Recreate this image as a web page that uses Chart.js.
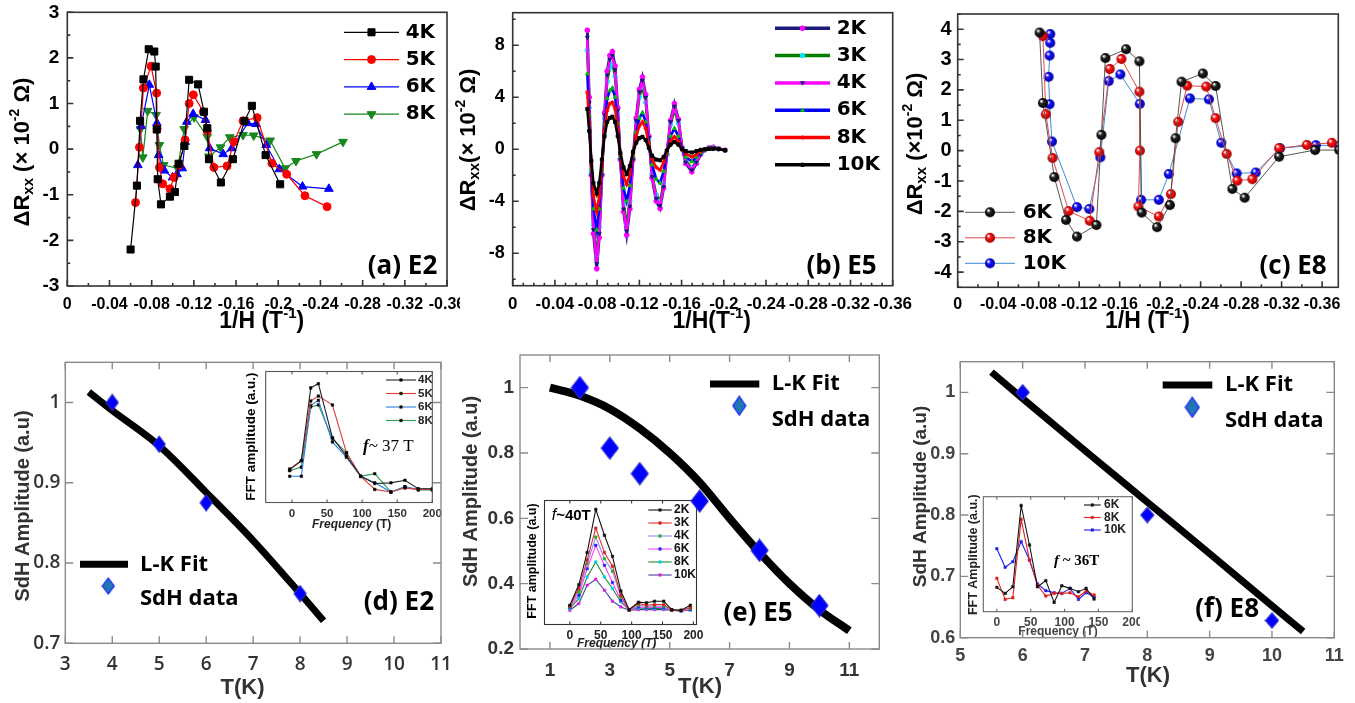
<!DOCTYPE html>
<html>
<head>
<meta charset="utf-8">
<script src="https://cdn.jsdelivr.net/npm/chart.js@4.4.1/dist/chart.umd.min.js"></script>
<style>
  html, body { margin: 0; padding: 0; background: #fff; }
  #page { position: relative; width: 1355px; height: 703px; overflow: hidden; }
  #page canvas { position: absolute; }
</style>
</head>
<body>
<div id="page"></div>
<script>
// ---- shared tick labels ----
const H_TICKS = [0, -0.04, -0.08, -0.12, -0.16, -0.2, -0.24, -0.28, -0.32, -0.36];
const FREQ_TICKS = [0, 50, 100, 150, 200];

// ---- (a) E2 oscillations ----
const E2_4K_H = [-0.060, -0.066, -0.069, -0.0722, -0.0772, -0.0825, -0.0838, -0.0848, -0.0857, -0.0888, -0.0973, -0.102, -0.1055, -0.111, -0.1155, -0.124, -0.1296, -0.1327, -0.1343, -0.1456, -0.157, -0.168, -0.175, -0.188, -0.2018];
const E2_4K_R = [-2.2, -0.80, 0.62, 1.53, 2.19, 2.14, 1.81, 0.43, -0.66, -1.21, -1.04, -0.94, -0.32, 0.07, 1.52, 1.42, 0.82, 0.46, -0.22, -0.73, -0.22, 0.62, 0.95, -0.13, -0.77];
const E2_5K_H = [-0.0647, -0.0684, -0.0722, -0.0794, -0.0847, -0.0852, -0.0873, -0.0904, -0.0973, -0.1013, -0.106, -0.1117, -0.1155, -0.1195, -0.129, -0.1327, -0.139, -0.1515, -0.158, -0.1666, -0.18, -0.194, -0.208, -0.2253, -0.2463];
const E2_5K_R = [-1.17, 0.04, 1.34, 1.82, 1.23, 0.45, -0.40, -0.76, -0.87, -0.62, -0.35, 0.20, 1.0, 1.19, 0.82, 0.4, -0.40, -0.37, 0.16, 0.62, 0.69, -0.31, -0.55, -1.02, -1.26];
const E2_6K_H = [-0.0669, -0.07, -0.0778, -0.085, -0.0866, -0.092, -0.0998, -0.104, -0.109, -0.1117, -0.1133, -0.1193, -0.131, -0.135, -0.1478, -0.156, -0.171, -0.179, -0.1886, -0.201, -0.223, -0.248];
const E2_6K_R = [-0.35, 0.51, 1.41, 0.57, -0.13, -0.47, -0.62, -0.55, -0.42, 0.16, 0.6, 0.77, 0.64, 0.02, -0.11, 0.02, 0.57, 0.55, 0.09, -0.44, -0.82, -0.87];
const E2_8K_H = [-0.0694, -0.0716, -0.0762, -0.0842, -0.0873, -0.0913, -0.1045, -0.1108, -0.1202, -0.1327, -0.1343, -0.1453, -0.154, -0.1666, -0.1767, -0.1924, -0.2065, -0.2168, -0.2363, -0.2614];
const E2_8K_R = [0.44, -0.18, 0.84, 0.75, 0.09, -0.35, -0.42, 0.44, 0.7, 0.27, -0.16, 0.04, 0.26, 0.31, 0.3, 0.19, -0.42, -0.26, -0.11, 0.16];

// ---- (b) E5 oscillations, common 1/H grid ----
const E5_H = [-0.0707, -0.0725, -0.0745, -0.0765, -0.0796, -0.082, -0.0845, -0.087, -0.0895, -0.092, -0.0944, -0.097, -0.0995, -0.102, -0.105, -0.108, -0.111, -0.114, -0.117, -0.120, -0.1229, -0.126, -0.129, -0.132, -0.136, -0.1396, -0.143, -0.146, -0.1495, -0.1532, -0.157, -0.1605, -0.164, -0.1697, -0.174, -0.178, -0.182, -0.186, -0.19, -0.195, -0.2012];
const E5_2K = [9.15, 4.0, -2.0, -6.5, -9.2, -6.8, -2.0, 2.8, 6.0, 7.2, 7.5, 6.4, 3.2, -0.8, -4.8, -6.6, -4.6, -0.8, 2.4, 4.6, 5.55, 4.2, 1.0, -2.2, -4.0, -4.56, -3.0, -0.4, 2.2, 3.5, 2.3, 0.1, -1.1, -1.74, -1.1, -0.4, -0.05, 0.1, 0.15, 0.05, -0.08];
const E5_3K = [7.6, 3.2, -1.8, -5.8, -8.2, -6.0, -1.9, 2.4, 5.2, 6.3, 6.6, 5.6, 2.7, -0.7, -4.2, -5.8, -4.0, -0.7, 2.0, 4.0, 4.8, 3.6, 0.8, -1.9, -3.5, -4.0, -2.6, -0.4, 1.9, 3.0, 2.0, 0.1, -0.9, -1.45, -0.9, -0.35, -0.05, 0.08, 0.1, 0.03, -0.08];
const E5_4K = [8.6, 3.6, -2.0, -6.2, -8.8, -6.5, -2.0, 2.6, 5.7, 6.9, 7.2, 6.1, 3.0, -0.8, -4.6, -6.3, -4.4, -0.8, 2.2, 4.4, 5.3, 4.0, 0.9, -2.1, -3.8, -4.35, -2.9, -0.4, 2.1, 3.3, 2.2, 0.1, -1.0, -1.6, -1.0, -0.4, -0.05, 0.1, 0.12, 0.04, -0.08];
const E5_6K = [5.8, 2.6, -1.5, -4.6, -6.2, -4.6, -1.5, 1.9, 3.9, 4.5, 4.7, 4.0, 2.0, -0.5, -3.0, -4.0, -2.8, -0.5, 1.3, 2.4, 2.8, 2.1, 0.4, -1.2, -2.3, -2.6, -1.7, -0.3, 1.0, 1.6, 1.0, 0.0, -0.6, -0.95, -0.6, -0.25, -0.05, 0.05, 0.08, 0.02, -0.08];
const E5_8K = [4.4, 2.0, -1.2, -3.6, -4.8, -3.6, -1.2, 1.4, 3.0, 3.5, 3.6, 3.1, 1.5, -0.4, -2.1, -2.7, -1.9, -0.3, 1.0, 1.8, 2.1, 1.6, 0.3, -0.8, -1.4, -1.6, -1.0, -0.2, 0.6, 0.95, 0.6, 0.0, -0.35, -0.6, -0.4, -0.15, -0.03, 0.04, 0.05, 0.02, -0.08];
const E5_10K = [3.1, 1.4, -0.9, -2.6, -3.4, -2.6, -0.8, 1.0, 2.1, 2.4, 2.5, 2.1, 1.0, -0.3, -1.4, -1.9, -1.3, -0.2, 0.5, 0.85, 0.95, 0.7, 0.1, -0.5, -0.8, -0.85, -0.6, -0.1, 0.35, 0.55, 0.35, 0.0, -0.15, -0.25, -0.15, -0.05, 0.0, 0.02, 0.03, 0.01, -0.08];

// ---- (c) E8 oscillations ----
const E8_6K_H = [-0.0809, -0.0842, -0.0954, -0.107, -0.1178, -0.137, -0.142, -0.1459, -0.1663, -0.1795, -0.1818, -0.197, -0.2096, -0.2152, -0.2211, -0.2422, -0.2548, -0.2713, -0.2835, -0.3175, -0.3531, -0.3769];
const E8_6K_R = [3.89, 1.57, -0.87, -2.28, -2.83, -2.45, 0.52, 3.05, 3.34, 2.94, -2.04, -2.52, -1.79, 0.41, 2.27, 2.54, 2.13, -1.26, -1.55, -0.2, 0.02, 0.02];
const E8_8K_H = [-0.0842, -0.0871, -0.0937, -0.1096, -0.1304, -0.1399, -0.1502, -0.1617, -0.1795, -0.18, -0.1785, -0.1987, -0.2106, -0.2178, -0.2267, -0.2455, -0.2548, -0.2657, -0.2762, -0.2911, -0.3175, -0.3449, -0.3696];
const E8_8K_R = [3.77, 1.2, -0.24, -1.99, -2.31, -0.05, 2.69, 3.02, 1.94, 0.0, -1.84, -2.17, -1.43, 0.95, 2.14, 2.11, 1.07, -0.11, -0.99, -0.94, 0.08, 0.19, 0.26];
const E8_10K_H = [-0.0914, -0.0914, -0.0908, -0.0898, -0.0908, -0.0931, -0.1178, -0.13, -0.1409, -0.1492, -0.1607, -0.1799, -0.1812, -0.1987, -0.2086, -0.2294, -0.2482, -0.2604, -0.2756, -0.2944, -0.3185, -0.3538, -0.3769];
const E8_10K_R = [3.84, 3.55, 3.13, 2.43, 1.53, 0.3, -1.86, -1.92, -0.22, 2.29, 2.51, 1.54, -1.62, -1.62, -0.77, 1.72, 1.69, 0.26, -0.75, -0.72, 0.08, 0.18, 0.16];

// ---- (d)-(f) SdH amplitude vs T with L-K fits ----
const E2_T = [4, 5, 6, 8];
const E2_AMP = [1.0, 0.948, 0.875, 0.762];
const E2_FIT_T = [3.5, 4, 5, 6, 7, 8, 8.5];
const E2_FIT = [1.013, 0.99, 0.946, 0.888, 0.828, 0.762, 0.728];
const E5_T = [2, 3, 4, 6, 8, 10];
const E5_AMP = [1.0, 0.815, 0.737, 0.653, 0.502, 0.333];
const E5_FIT_T = [1, 2, 3, 4, 5, 6, 7, 8, 9, 10, 11];
const E5_FIT = [1.0, 0.975, 0.935, 0.875, 0.8, 0.71, 0.6, 0.495, 0.4, 0.32, 0.256];
const E8_T = [6, 8, 10];
const E8_AMP = [1.0, 0.8, 0.628];
const E8_FIT_T = [5.5, 6, 7, 8, 9, 10, 10.5];
const E8_FIT = [1.033, 0.99, 0.905, 0.821, 0.737, 0.652, 0.61];

// ---- FFT insets (arbitrary units) ----
const FFT_E2_F = [-3.3, 13.3, 26.7, 37.6, 57.6, 77.6, 98, 118, 141, 161, 180, 200];
const FFT_E2_4K = [0.255, 0.32, 0.875, 0.907, 0.495, 0.355, 0.2, 0.145, 0.15, 0.17, 0.105, 0.105];
const FFT_E2_5K = [0.25, 0.318, 0.775, 0.8125, 0.745, 0.38, 0.2, 0.1, 0.08, 0.11, 0.1, 0.1];
const FFT_E2_6K = [0.2, 0.2, 0.74, 0.78, 0.4625, 0.345, 0.2, 0.15, 0.08, 0.12, 0.1, 0.1];
const FFT_E2_8K = [0.2425, 0.27, 0.73, 0.745, 0.4875, 0.38, 0.2, 0.22, 0.08, 0.12, 0.095, 0.095];

const FFT_E5_F = [0, 14.5, 28, 42, 56, 69, 82.6, 96, 111, 124, 137, 152, 165, 180, 195];
const FFT_E5_2K = [0.155, 0.32, 0.58, 0.928, 0.72, 0.55, 0.27, 0.12, 0.18, 0.175, 0.188, 0.188, 0.12, 0.115, 0.155];
const FFT_E5_3K = [0.147, 0.29, 0.52, 0.777, 0.58, 0.47, 0.236, 0.115, 0.17, 0.155, 0.16, 0.16, 0.115, 0.115, 0.137];
const FFT_E5_4K = [0.142, 0.263, 0.49, 0.705, 0.53, 0.43, 0.222, 0.115, 0.155, 0.147, 0.147, 0.147, 0.115, 0.115, 0.129];
const FFT_E5_6K = [0.137, 0.236, 0.45, 0.638, 0.477, 0.338, 0.196, 0.115, 0.142, 0.137, 0.137, 0.137, 0.115, 0.11, 0.123];
const FFT_E5_8K = [0.129, 0.209, 0.383, 0.504, 0.383, 0.29, 0.182, 0.115, 0.134, 0.129, 0.129, 0.129, 0.115, 0.11, 0.12];
const FFT_E5_10K = [0.115, 0.169, 0.316, 0.365, 0.276, 0.188, 0.142, 0.115, 0.12, 0.12, 0.12, 0.12, 0.115, 0.11, 0.115];

const FFT_E8_F = [0, 12.3, 23.6, 35.9, 48.2, 60, 72.3, 84.6, 95.9, 108, 120.5, 131.8, 143.6];
const FFT_E8_6K = [0.212, 0.159, 0.217, 0.922, 0.58, 0.217, 0.27, 0.081, 0.226, 0.203, 0.174, 0.203, 0.11];
const FFT_E8_8K = [0.29, 0.107, 0.122, 0.803, 0.449, 0.232, 0.136, 0.159, 0.159, 0.165, 0.13, 0.18, 0.145];
const FFT_E8_10K = [0.548, 0.386, 0.435, 0.609, 0.449, 0.241, 0.183, 0.165, 0.159, 0.203, 0.107, 0.165, 0.13];

const ARIAL = '"Liberation Sans", Arial, sans-serif';
const OPEN = '"Open Sans", sans-serif';
const DEJAVU = '"DejaVu Sans", sans-serif';
const TIMES = '"Liberation Serif", serif';

const pageEl = document.getElementById('page');

function pts(xs, ys) { return xs.map((x, i) => ({ x, y: ys[i] })); }

// shaded sphere marker
function ball(r, color, dark) {
  const c = document.createElement('canvas');
  c.width = c.height = 2 * r + 2;
  const g = c.getContext('2d');
  const grd = g.createRadialGradient(r + 1 - r * 0.35, r + 1 - r * 0.4, r * 0.1, r + 1, r + 1, r);
  grd.addColorStop(0, '#ffffff');
  grd.addColorStop(0.35, color);
  grd.addColorStop(1, dark);
  g.beginPath(); g.arc(r + 1, r + 1, r, 0, Math.PI * 2);
  g.fillStyle = grd; g.fill();
  return c;
}

// tall diamond marker
function diamond(w, h, fill, stroke) {
  const c = document.createElement('canvas');
  c.width = w + 2; c.height = h + 2;
  const g = c.getContext('2d');
  g.beginPath();
  g.moveTo(w / 2 + 1, 1); g.lineTo(w + 1, h / 2 + 1); g.lineTo(w / 2 + 1, h + 1); g.lineTo(1, h / 2 + 1);
  g.closePath();
  g.fillStyle = fill; g.fill();
  g.strokeStyle = stroke; g.lineWidth = 1.2; g.stroke();
  return c;
}

function axis(o) {
  return {
    type: 'linear', min: o.min, max: o.max, reverse: !!o.reverse,
    afterBuildTicks: s => { s.ticks = o.ticks.map(v => ({ value: v })); },
    grid: { display: false, drawTicks: false },
    border: { display: false },
    ticks: {
      display: o.labels !== false, autoSkip: false, maxRotation: 0, minRotation: 0,
      padding: o.pad || 4, color: o.color || '#000',
      font: { family: o.family || ARIAL, size: o.size || 12, weight: o.weight || 'bold' },
      callback: v => String(+v.toFixed(2))
    }
  };
}

function series(data, color, style, o) {
  return Object.assign({
    data, showLine: true, borderColor: color, borderWidth: 1.2, tension: 0,
    pointStyle: style, pointRadius: 4, pointBackgroundColor: color,
    pointBorderColor: color, pointBorderWidth: 1, pointRotation: 0
  }, o || {});
}

function drawFrame(chart, f) {
  const ctx = chart.ctx, a = chart.chartArea;
  ctx.save();
  ctx.strokeStyle = f.color; ctx.lineWidth = f.width;
  ctx.strokeRect(a.left, a.top, a.right - a.left, a.bottom - a.top);
  (f.ticks || []).forEach(t => {
    const sc = chart.scales[t.axis];
    const marks = sc.ticks.map(k => [k.value, t.len]);
    if (t.minorStep) {
      const first = Math.ceil(sc.min / t.minorStep - 1e-6);
      const last = Math.floor(sc.max / t.minorStep + 1e-6);
      for (let i = first; i <= last; i++) marks.push([i * t.minorStep, t.minorLen]);
    }
    ctx.beginPath();
    marks.forEach(([v, len]) => {
      const p = sc.getPixelForValue(v);
      t.sides.forEach(side => {
        if (side === 'bottom') { ctx.moveTo(p, a.bottom); ctx.lineTo(p, a.bottom - len); }
        if (side === 'top') { ctx.moveTo(p, a.top); ctx.lineTo(p, a.top + len); }
        if (side === 'left') { ctx.moveTo(a.left, p); ctx.lineTo(a.left + len, p); }
        if (side === 'right') { ctx.moveTo(a.right, p); ctx.lineTo(a.right - len, p); }
      });
    });
    ctx.stroke();
  });
  ctx.restore();
}

function drawNote(ctx, n, ox, oy) {
  ctx.save();
  ctx.translate(n.x - ox, n.y - oy);
  if (n.rot) ctx.rotate(n.rot * Math.PI / 180);
  ctx.fillStyle = n.color || '#000';
  ctx.textBaseline = 'middle';
  ctx.textAlign = 'left';
  let w = 0;
  n.segs.forEach(s => { ctx.font = s[1]; w += ctx.measureText(s[0]).width; });
  let cx = n.align === 'left' ? 0 : n.align === 'right' ? -w : -w / 2;
  n.segs.forEach(s => {
    ctx.font = s[1];
    ctx.fillText(s[0], cx, s[2] || 0);
    cx += ctx.measureText(s[0]).width;
  });
  ctx.restore();
}

function drawKey(chart, k, ex) {
  const ctx = chart.ctx, ox = ex.ox, oy = ex.oy;
  const ds = k.ds != null ? chart.data.datasets[k.ds] : {};
  ctx.save();
  if (k.line) {
    ctx.beginPath();
    ctx.strokeStyle = k.lineColor || ds.borderColor;
    ctx.lineWidth = k.lineWidth || ds.borderWidth;
    ctx.moveTo(k.line[0] - ox, k.line[2] - oy);
    ctx.lineTo(k.line[1] - ox, k.line[2] - oy);
    ctx.stroke();
  }
  if (k.mark) {
    ctx.fillStyle = ds.pointBackgroundColor;
    ctx.strokeStyle = ds.pointBorderColor;
    ctx.lineWidth = ds.pointBorderWidth || 1;
    Chart.helpers.drawPoint(ctx, {
      pointStyle: k.pointStyle || ds.pointStyle,
      radius: k.radius || ds.pointRadius,
      rotation: ds.pointRotation || 0,
      borderWidth: ds.pointBorderWidth || 1
    }, k.mark[0] - ox, k.mark[1] - oy);
  }
  if (k.label) {
    ctx.font = ex.keyFont;
    ctx.fillStyle = ex.keyColor || '#000';
    ctx.textBaseline = 'middle';
    ctx.textAlign = 'left';
    ctx.fillText(k.label, k.text[0] - ox, k.text[1] - oy);
  }
  ctx.restore();
}

function decor(ex) {
  return {
    id: 'decor',
    afterDraw(chart) {
      if (ex.frame) drawFrame(chart, ex.frame);
      (ex.keys || []).forEach(k => drawKey(chart, k, ex));
      (ex.notes || []).forEach(n => drawNote(chart.ctx, n, ex.ox, ex.oy));
    }
  };
}

// legend rows: line sample with a marker in the middle, label on the right
function keyRows(labels, x0, x1, y0, dy, tx) {
  return labels.map((l, i) => ({
    label: l, ds: i, line: [x0, x1, y0 + i * dy],
    mark: [(x0 + x1) / 2, y0 + i * dy], text: [tx, y0 + i * dy]
  }));
}

// rect = canvas box on the page, area = wanted plot box on the page
function panel(rect, area, datasets, scales, ex, z) {
  const cv = document.createElement('canvas');
  cv.width = rect[2]; cv.height = rect[3];
  cv.style.left = rect[0] + 'px'; cv.style.top = rect[1] + 'px';
  cv.style.width = rect[2] + 'px'; cv.style.height = rect[3] + 'px';
  cv.style.zIndex = z;
  pageEl.appendChild(cv);
  const left = area[0] - rect[0];
  const top = area[1] - rect[1];
  const right = rect[0] + rect[2] - area[2];
  const bottom = rect[1] + rect[3] - area[3];
  scales.x.afterFit = s => { s.height = bottom; s.paddingLeft = 0; s.paddingRight = 0; };
  scales.y.afterFit = s => { s.width = left; s.paddingTop = 0; s.paddingBottom = 0; };
  ex.ox = rect[0]; ex.oy = rect[1];
  return new Chart(cv, {
    type: 'scatter',
    data: { datasets },
    options: {
      responsive: false, animation: false, devicePixelRatio: 1,
      layout: { padding: { left: 0, top, right, bottom: 0 } },
      scales,
      plugins: { legend: { display: false }, tooltip: { enabled: false } }
    },
    plugins: [decor(ex)]
  });
}

function rxxTitle(x, y, noSpace, tight) {
  const f = `bold 22px ${ARIAL}`;
  return {
    x, y, rot: -90, segs: [
      ['\u0394R', f], ['xx', `bold 15px ${ARIAL}`, 6],
      [(noSpace ? '' : ' ') + (tight ? '(\u00d710' : '(\u00d7 10'), f],
      ['-2', `bold 14px ${ARIAL}`, -8], [' \u03a9)', f]
    ]
  };
}
function hTitle(x, y, noSpace) {
  const f = `bold 23px ${ARIAL}`;
  return { x, y, segs: [[noSpace ? '1/H(T' : '1/H (T', f], ['-1', `bold 15px ${ARIAL}`, -8], [')', f]] };
}
function label(text, xr, y) {
  return { x: xr, y, align: 'right', segs: [[text, `bold 26px ${OPEN}`]] };
}
function hAxis(size, pad) {
  return axis({ min: -0.36, max: 0, reverse: true, ticks: H_TICKS, size, pad });
}
const topFrame = (yStep, xStep) => ({
  color: '#333', width: 1.6,
  ticks: [
    { axis: 'x', sides: ['bottom'], len: 6, minorStep: xStep, minorLen: 3 },
    { axis: 'y', sides: ['left'], len: 6, minorStep: yStep, minorLen: 3 }
  ]
});

// ================= (a) E2 =================
panel([0, 0, 460, 345], [67.3, 12.3, 447, 286], [
  series(pts(E2_4K_H, E2_4K_R), '#000000', 'rect', { pointRadius: 5 }),
  series(pts(E2_5K_H, E2_5K_R), '#ff0000', 'circle', { pointRadius: 4 }),
  series(pts(E2_6K_H, E2_6K_R), '#0000ff', 'triangle', { pointRadius: 5 }),
  series(pts(E2_8K_H, E2_8K_R), '#17861c', 'triangle', { pointRadius: 5, pointRotation: 180 })
], {
  x: hAxis(16, 9),
  y: axis({ min: -3, max: 3, ticks: [-3, -2, -1, 0, 1, 2, 3], size: 19, pad: 8 })
}, {
  frame: topFrame(0.5, 0.02),
  keyFont: `bold 20px ${DEJAVU}`,
  keys: keyRows(['4K', '5K', '6K', '8K'], 344, 399, 32.3, 27.3, 405.7),
  notes: [rxxTitle(23, 152), hTitle(261.7, 322), label('(a) E2', 437.3, 266.7)]
}, 2);

// ================= (b) E5 =================
const e5Sets = [
  series(pts(E5_H, E5_2K), '#1a1a7a', 'circle', { borderWidth: 2.8, pointRadius: 2.4, pointBackgroundColor: '#ff00ff', pointBorderColor: '#ff00ff', order: 6 }),
  series(pts(E5_H, E5_3K), '#008000', 'circle', { borderWidth: 2.6, pointRadius: 2.2, pointBackgroundColor: '#00e5ff', pointBorderColor: '#00e5ff', order: 5 }),
  series(pts(E5_H, E5_4K), '#ff00ff', 'triangle', { borderWidth: 2.6, pointRadius: 2.2, pointRotation: 180, pointBackgroundColor: '#1a1a7a', pointBorderColor: '#1a1a7a', order: 4 }),
  series(pts(E5_H, E5_6K), '#0000ff', 'triangle', { borderWidth: 2.6, pointRadius: 2.2, pointBackgroundColor: '#00c000', pointBorderColor: '#00c000', order: 3 }),
  series(pts(E5_H, E5_8K), '#ff0000', 'star', { borderWidth: 2.6, pointRadius: 2.2, order: 2 }),
  series(pts(E5_H, E5_10K), '#000000', 'rect', { borderWidth: 2.6, pointRadius: 2.2, order: 1 })
];
panel([452, 0, 472, 345], [512.7, 12.7, 892.7, 285.7], e5Sets, {
  x: hAxis(17, 8),
  y: axis({ min: -10.5, max: 10.5, ticks: [-8, -4, 0, 4, 8], size: 18, pad: 8 })
}, {
  frame: topFrame(2, 0.01),
  keyFont: `bold 20px ${DEJAVU}`,
  keys: keyRows(['2K', '3K', '4K', '6K', '8K', '10K'], 775, 830, 28.3, 27.3, 836.7).map(k => Object.assign(k, { lineWidth: 3.5 })),
  notes: [rxxTitle(469, 140, true), hTitle(711.7, 322, true), label('(b) E5', 876.7, 266.7)]
}, 3);

// ================= (c) E8 =================
panel([900, 0, 455, 345], [957.7, 14, 1338.3, 287.3], [
  series(pts(E8_6K_H, E8_6K_R), '#555555', ball(5, '#222222', '#000000'), { borderWidth: 1, pointRadius: 5 }),
  series(pts(E8_8K_H, E8_8K_R), '#e04848', ball(5, '#ff1010', '#a00000'), { borderWidth: 1, pointRadius: 5 }),
  series(pts(E8_10K_H, E8_10K_R), '#3a8ad8', ball(5, '#1010ff', '#0000a0'), { borderWidth: 1, pointRadius: 5 })
], {
  x: axis({ min: -0.376, max: 0, reverse: true, ticks: H_TICKS, size: 16, pad: 8 }),
  y: axis({ min: -4.5, max: 4.5, ticks: [-4, -3, -2, -1, 0, 1, 2, 3, 4], size: 20, pad: 6 })
}, {
  frame: topFrame(0.5, 0.02),
  keyFont: `bold 20px ${DEJAVU}`,
  keys: keyRows(['6K', '8K', '10K'], 965, 1015, 212.3, 25.5, 1022.7),
  notes: [rxxTitle(916, 144, false, true), hTitle(1147.5, 322), label('(c) E8', 1326.7, 266.7)]
}, 4);

// ================= bottom row =================
const botFrame = () => ({
  color: '#8a8a8a', width: 1.4,
  ticks: [
    { axis: 'x', sides: ['bottom', 'top'], len: 7 },
    { axis: 'y', sides: ['left', 'right'], len: 8 }
  ]
});
function fitLine(data, w) {
  return { data, showLine: true, borderColor: '#000', borderWidth: w, pointRadius: 0, tension: 0.4, cubicInterpolationMode: 'monotone', order: 2 };
}
function amps(data, img) {
  return { data, showLine: false, pointStyle: img, pointRadius: 9, pointBackgroundColor: '#0000ff', pointBorderColor: '#2020c0', order: 1 };
}
function lkKeys(lx0, lx1, ly, dx, dy, tx, ty2, img) {
  return [
    { label: 'L-K Fit', ds: 0, line: [lx0, lx1, ly], text: [tx, ly], lineWidth: 7 },
    { label: 'SdH data', ds: 1, mark: [dx, dy], pointStyle: img, text: [tx, ty2] }
  ];
}
const ampTitle = (x, y, size) => ({ x, y, rot: -90, color: '#333', segs: [['SdH Amplitude (a.u)', `bold ${size}px ${ARIAL}`]] });
const tTitle = (x, y) => ({ x, y, color: '#333', segs: [['T(K)', `bold 22px ${ARIAL}`]] });

// (d) E2
panel([0, 335, 452, 368], [65.3, 362.3, 441, 643.3], [
  fitLine(pts(E2_FIT_T, E2_FIT), 7),
  amps(pts(E2_T, E2_AMP), diamond(12, 16, '#0000ff', '#2a2ad0'))
], {
  x: axis({ min: 3, max: 11, ticks: [3, 4, 5, 6, 7, 8, 9, 10, 11], size: 19, pad: 10, color: '#333', family: OPEN, weight: '600' }),
  y: axis({ min: 0.7, max: 1.05, ticks: [0.7, 0.8, 0.9, 1], size: 19, pad: 5, color: '#333', family: OPEN, weight: '600' })
}, {
  frame: botFrame(),
  keyFont: `bold 22px ${OPEN}`,
  keys: lkKeys(80, 128, 564.3, 108.3, 586, 140, 598.3, diamond(12, 16, '#1f78b4', '#1a1aff')),
  notes: [ampTitle(23, 506, 20), tTitle(242.5, 688), label('(d) E2', 434, 602.7)]
}, 2);

// (e) E5
panel([452, 335, 450, 368], [520, 355, 879.3, 649], [
  fitLine(pts(E5_FIT_T, E5_FIT), 8),
  amps(pts(E5_T, E5_AMP), diamond(17, 22, '#0000ff', '#2a2ad0'))
], {
  x: axis({ min: 0, max: 12, ticks: [1, 3, 5, 7, 9, 11], size: 19, pad: 10, color: '#333' }),
  y: axis({ min: 0.2, max: 1.1, ticks: [0.2, 0.4, 0.6, 0.8, 1], size: 19, pad: 6, color: '#333' })
}, {
  frame: botFrame(),
  keyFont: `bold 22px ${OPEN}`,
  keys: lkKeys(710, 759.3, 384, 739.3, 405.7, 771.7, 420, diamond(13, 19, '#1f78b4', '#1a1aff')),
  notes: [ampTitle(471.7, 491.5, 20), tTitle(700, 687), label('(e) E5', 792.7, 614)]
}, 3);

// (f) E8
panel([900, 335, 455, 368], [960.3, 361.7, 1334.3, 637.7], [
  fitLine(pts(E8_FIT_T, E8_FIT), 7),
  amps(pts(E8_T, E8_AMP), diamond(13, 15, '#0000ff', '#2a2ad0'))
], {
  x: axis({ min: 5, max: 11, ticks: [5, 6, 7, 8, 9, 10, 11], size: 18, pad: 8, color: '#444' }),
  y: axis({ min: 0.6, max: 1.05, ticks: [0.6, 0.7, 0.8, 0.9, 1], size: 18, pad: 5, color: '#444' })
}, {
  frame: botFrame(),
  keyFont: `bold 22px ${OPEN}`,
  keys: lkKeys(1162.7, 1212.3, 385, 1192.3, 407.3, 1225, 420.7, diamond(14, 20, '#1f78b4', '#1a1aff')),
  notes: [ampTitle(921, 496.5, 19), tTitle(1148, 676), label('(f) E8', 1259, 610)]
}, 4);

// ================= FFT insets =================
function fft(data, color, mark) {
  return {
    data, showLine: true, borderColor: color, borderWidth: 1.1, tension: 0,
    pointStyle: 'rect', pointRadius: 1.8, pointBackgroundColor: mark || color,
    pointBorderColor: mark || color, pointBorderWidth: 0.5
  };
}
const insetFrame = c => ({ color: c, width: 1.1, ticks: [{ axis: 'x', sides: ['bottom', 'top'], len: 3 }] });
const fftY = () => axis({ min: 0, max: 1, ticks: [], labels: false });

// inset of (d)
panel([236, 362, 210, 175], [265.7, 371.5, 432.3, 502.5], [
  fft(pts(FFT_E2_F, FFT_E2_4K), '#222222', '#000'),
  fft(pts(FFT_E2_F, FFT_E2_5K), '#e03a3a', '#000'),
  fft(pts(FFT_E2_F, FFT_E2_6K), '#2a7fd8', '#000'),
  fft(pts(FFT_E2_F, FFT_E2_8K), '#2a9a5a', '#000')
], {
  x: axis({ min: -37.5, max: 200, ticks: FREQ_TICKS, size: 11.5, pad: 4, color: '#333' }),
  y: fftY()
}, {
  frame: insetFrame('#555'),
  keyFont: `bold 11.5px ${ARIAL}`,
  keyColor: '#222',
  keys: keyRows(['4K', '5K', '6K', '8K'], 386, 416, 380, 13.5, 418),
  notes: [
    { x: 251.7, y: 436.7, rot: -90, segs: [['FFT amplitude (a.u.)', `bold 13.5px ${ARIAL}`]] },
    { x: 351.7, y: 524.3, color: '#222', segs: [['Frequency', `italic bold 12px ${ARIAL}`], [' (T)', `bold 12px ${ARIAL}`]] },
    { x: 363, y: 446.7, align: 'left', segs: [['f', `bold italic 17px ${TIMES}`], ['~ 37 T', `17px ${TIMES}`]] }
  ]
}, 1);

// inset of (e)
panel([518, 492, 192, 160], [544.5, 500.5, 696.5, 624.5], [
  fft(pts(FFT_E5_F, FFT_E5_2K), '#111111'),
  fft(pts(FFT_E5_F, FFT_E5_3K), '#e03030', '#d02020'),
  fft(pts(FFT_E5_F, FFT_E5_4K), '#8c8cf0', '#20b020'),
  fft(pts(FFT_E5_F, FFT_E5_6K), '#ff40ff', '#2020ff'),
  fft(pts(FFT_E5_F, FFT_E5_8K), '#208a30', '#00d0e0'),
  fft(pts(FFT_E5_F, FFT_E5_10K), '#40409a', '#e020e0')
], {
  x: axis({ min: -41, max: 205, ticks: FREQ_TICKS, size: 12, pad: 4, color: '#222' }),
  y: fftY()
}, {
  frame: insetFrame('#333'),
  keyFont: `bold 12px ${ARIAL}`,
  keyColor: '#111',
  keys: keyRows(['2K', '3K', '4K', '6K', '8K', '10K'], 648.3, 671.7, 510, 13, 674),
  notes: [
    { x: 533, y: 561, rot: -90, segs: [['FFT amplitude (a.u)', `bold 12.5px ${ARIAL}`]] },
    { x: 616.7, y: 643.3, color: '#222', segs: [['Frequency (T)', `italic bold 12px ${ARIAL}`]] },
    { x: 551.7, y: 515.7, align: 'left', segs: [['f', `italic 16px ${ARIAL}`], ['~40T', `bold 15px ${ARIAL}`]] }
  ]
}, 1);

// inset of (f)
panel([958, 488, 182, 155], [983.3, 496.7, 1132.3, 611.7], [
  fft(pts(FFT_E8_F, FFT_E8_6K), '#111111'),
  fft(pts(FFT_E8_F, FFT_E8_8K), '#e02020'),
  fft(pts(FFT_E8_F, FFT_E8_10K), '#2020f0')
], {
  x: axis({ min: -20, max: 200, ticks: FREQ_TICKS, size: 12, pad: 4, color: '#444' }),
  y: fftY()
}, {
  frame: insetFrame('#666'),
  keyFont: `bold 12px ${ARIAL}`,
  keyColor: '#222',
  keys: keyRows(['6K', '8K', '10K'], 1084, 1100.7, 505, 12.5, 1104),
  notes: [
    { x: 973.3, y: 554.7, rot: -90, color: '#222', segs: [['FFT Amplitude (a.u.)', `bold 12.5px ${ARIAL}`]] },
    { x: 1058, y: 631.7, color: '#444', segs: [['Frequency (T)', `bold 12px ${ARIAL}`]] },
    { x: 1054, y: 560.7, align: 'left', segs: [['f', `bold italic 15px ${TIMES}`], [' ~ 36T', `bold 15px ${TIMES}`]] }
  ]
}, 1);
</script>
</body>
</html>
